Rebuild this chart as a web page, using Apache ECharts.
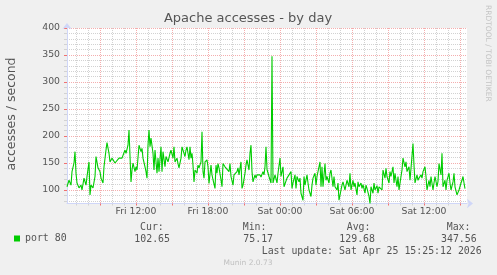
<!DOCTYPE html>
<html><head><meta charset="utf-8">
<script src="https://cdn.jsdelivr.net/npm/echarts@6/dist/echarts.min.js"></script>
<style>html,body{margin:0;padding:0;background:#F0F0F0}#c{width:497px;height:275px}</style>
</head><body><div id="c"></div>
<script>
// time = minutes since Fri 00:00
const times = [
 375,385,395,400,410,415,420,425,435,445,450,460,470,475,485,490,495,
 505,515,520,530,540,545,555,560,570,575,585,590,600,605,615,625,635,640,650,655,
 665,670,680,685,695,700,705,715,720,725,735,745,750,755,765,770,775,780,785,790,795,805,
 810,815,825,830,835,845,850,855,865,870,880,890,895,905,910,915,925,930,935,945,950,955,965,970,975,985,990,995,1000,1005,
 1010,1015,1025,1030,1035,1045,1050,1055,1060,1065,1075,1080,1085,1095,1100,1105,1115,1120,1125,1130,1135,1145,1150,1155,1165,1170,1175,1185,1190,1195,1205,
 1210,1215,1225,1230,1235,1245,1250,1255,1265,1270,1275,1285,1290,1295,1300,1305,1315,1320,1325,1335,1340,1345,1355,1360,1365,1370,1375,1385,1395,
 1400,1405,1415,1425,1430,1440,1445,1455,1460,1470,1475,1485,1495,1500,1505,1515,1520,1525,1535,1540,1545,1555,1560,1565,1575,1580,1585,
 1595,1600,1605,1615,1620,1625,1635,1640,1645,1650,1655,1665,1670,1675,1685,1690,1695,1705,1710,1715,1725,1730,1735,1745,1750,1755,1765,1770,1775,1785,
 1790,1795,1805,1810,1815,1825,1830,1835,1845,1850,1855,1865,1870,1875,1885,1890,1895,1905,1910,1915,1925,1930,1935,1945,1950,1955,1965,1970,1975,
 1985,1990,1995,2005,2010,2015,2025,2030,2035,2045,2050,2055,2065,2070,2075,2085,2090,2095,2105,2110,2115,2125,2130,2135,2145,2150,2155,2165,2170,2175,
 2185,2190,2195,2205,2210,2215,2225,2230,2235,2245,2250,2255,2265,2270,2275,2285,2290,2295,2305,2310,2315,2325,2330,2335,2345,2350,2355,2360,2365
];
const port80 = [
 106,118,109,134,150,171,131,113,104,109,100,122,109,125,152,91,109,
 104,125,162,141,134,122,113,143,174,188,168,152,159,156,150,152,159,156,159,156,
 174,168,183,211,115,137,150,134,143,137,183,171,177,159,143,134,122,183,211,180,196,168,
 137,174,131,159,134,180,134,171,143,162,152,168,174,159,180,152,159,149,141,159,180,183,162,174,180,156,180,159,168,146,
 115,137,131,146,141,152,208,134,122,152,156,143,112,146,128,119,103,146,131,149,141,119,106,149,143,141,146,134,149,125,109,
 128,131,134,141,128,152,103,109,131,146,156,137,168,183,134,115,128,122,128,125,128,124,134,128,143,180,138,125,113,
 347.56,113,128,113,131,159,125,143,106,109,122,125,134,103,113,128,103,125,115,122,94,81,125,109,128,113,100,
 88,109,122,131,109,125,122,152,106,143,106,149,118,125,113,131,137,106,125,106,100,113,81,100,109,115,100,109,118,106,
 131,100,118,106,113,91,115,106,113,103,110,94,109,103,88,75.17,106,94,113,100,108,94,106,108,100,137,122,140,125,
 113,134,125,143,113,131,106,125,100,125,137,159,143,152,134,143,118,140,186,146,113,128,118,122,128,122,134,143,125,100,
 118,106,125,100,113,125,106,116,149,128,168,106,118,100,118,131,113,100,115,131,106,91,88,100,113,118,125,113,102.65
];
const seriesName = 'port 80';
const yTickValues = [100,150,200,250,300,350,400];
const xTickMinutes = [720,1080,1440,1800,2160];
const xTickLabels = ['Fri 12:00','Fri 18:00','Sat 00:00','Sat 06:00','Sat 12:00'];
const statHeads = ['Cur:','Min:','Avg:','Max:'];
const statValues = ['102.65','75.17','129.68','347.56'];
const titleText = 'Apache accesses - by day';
const yAxisTitle = 'accesses / second';
const lastUpdate = 'Last update: Sat Apr 25 15:25:12 2026';
const sideText = 'RRDTOOL / TOBI OETIKER';
const footerText = 'Munin 2.0.73';

const X_MIN = 375, X_MAX = 2375, Y_MIN = 75, Y_MAX = 400;
const xCats = []; for (let m = X_MIN; m <= X_MAX; m += 5) xCats.push(String(m));
const yCats = []; for (let v = Y_MIN; v <= Y_MAX; v += 5) yCats.push(String(v));

const RED = '#F4AEAE', GRAY = '#D2D2D2', AXIS = '#CFD6F8', FONT = '#555';
const LBL = {fontFamily:'DejaVu Sans', fontSize:9.3, color:FONT};
const MONO = 'DejaVu Sans Mono';

const chart = echarts.init(document.getElementById('c'), null, {renderer:'canvas'});
const isMajX = v => (+v) % 180 === 0;
const isMinX = v => (+v) % 60 === 0 && (+v) % 180 !== 0;
const isMajY = v => (+v) % 50 === 0;
const isMinY = v => (+v) % 10 === 0 && (+v) % 50 !== 0;

function txt(text, x, y, size, fill, opts) {
  opts = opts || {};
  const align = opts.align || 'left';
  return {type:'text', x:x, y:y, rotation: opts.rotation || 0, z:100, silent:true,
    style:{text:text, fontFamily: opts.font || MONO, fontSize:size, fill:fill,
      align:align, textAlign:align, verticalAlign:'middle', textVerticalAlign:'middle'}};
}

const graphics = [
  txt(titleText, 248, 19, 13, FONT, {font:'DejaVu Sans', align:'center'}),
  txt(yAxisTitle, 11.7, 114, 12.5, FONT, {font:'DejaVu Sans', align:'center', rotation: Math.PI/2}),
  txt(sideText, 487.7, 53.3, 7.5, '#C4C4C4', {font:'DejaVu Sans', align:'center', rotation: -Math.PI/2}),
  txt(footerText, 248, 263.5, 7.5, '#C0C0C0', {font:'DejaVu Sans', align:'center'}),
  txt(lastUpdate, 261.7, 251.5, 9.9, FONT)
];
const headX = [140, 242.7, 346.7, 446.7];
const valX = [134.3, 243.3, 339.3, 441];
statHeads.forEach((h,i) => graphics.push(txt(h, headX[i], 227.5, 9.9, FONT)));
statValues.forEach((v,i) => graphics.push(txt(v, valX[i], 239.7, 9.9, FONT)));

chart.setOption({
  animation:false,
  backgroundColor:'#F0F0F0',
  color:['#00CC00'],
  grid:{left:67, top:28, width:400, height:175.5, show:true, backgroundColor:'#FFFFFF', borderWidth:0, containLabel:false, outerBoundsMode:'none'},
  legend:{data:[seriesName], left:14, top:233.5, padding:0, icon:'rect', itemWidth:6, itemHeight:6,
    selectedMode:false, textStyle:{fontFamily:MONO, fontSize:9.9, color:FONT}},
  xAxis:[
    {type:'category', data:xCats, boundaryGap:false, position:'bottom', z:1,
     axisLine:{show:false}, axisLabel:{show:false},
     axisTick:{show:true, interval:(i,v)=>isMinX(v), length:2, lineStyle:{color:GRAY}},
     splitLine:{show:true, interval:(i,v)=>isMinX(v), lineStyle:{color:GRAY, width:1, type:[1,1]}}},
    {type:'category', data:xCats, boundaryGap:false, position:'bottom', z:2,
     axisLine:{show:true, lineStyle:{color:AXIS, width:1}, symbol:['none','arrow'], symbolSize:[7,6], symbolOffset:[0,6]},
     axisTick:{show:true, interval:(i,v)=>isMajX(v), length:2, lineStyle:{color:'#F07070'}},
     axisLabel:{show:true, interval:(i,v)=>xTickMinutes.indexOf(+v) >= 0, margin:4,
       formatter:(v)=>xTickLabels[xTickMinutes.indexOf(+v)] || '', ...LBL},
     splitLine:{show:true, interval:(i,v)=>isMajX(v), lineStyle:{color:RED, width:1, type:[1,1]}}},
    {type:'value', min:X_MIN, max:X_MAX, show:false}
  ],
  yAxis:[
    {type:'category', data:yCats, boundaryGap:false, position:'left', z:1,
     axisLine:{show:false}, axisLabel:{show:false},
     axisTick:{show:true, interval:(i,v)=>isMinY(v), length:3, lineStyle:{color:GRAY}},
     splitLine:{show:true, interval:(i,v)=>isMinY(v), lineStyle:{color:GRAY, width:1, type:[1,1]}}},
    {type:'category', data:yCats, boundaryGap:false, position:'left', z:2,
     axisLine:{show:true, lineStyle:{color:AXIS, width:1}, symbol:['none','arrow'], symbolSize:[7,6], symbolOffset:[0,5]},
     axisTick:{show:true, interval:(i,v)=>isMajY(v), length:3, lineStyle:{color:'#F07070'}},
     axisLabel:{show:true, interval:(i,v)=>yTickValues.indexOf(+v) >= 0, margin:7,
       formatter:(v)=> yTickValues.indexOf(+v) >= 0 ? String(v) : '', ...LBL},
     splitLine:{show:true, interval:(i,v)=>isMajY(v), lineStyle:{color:RED, width:1, type:[1,1]}}},
    {type:'value', min:Y_MIN, max:Y_MAX, show:false}
  ],
  series:[{
    name:seriesName, type:'line', xAxisIndex:2, yAxisIndex:2, z:5,
    data: times.map((t,i)=>[t, port80[i]]),
    showSymbol:false, symbol:'none', smooth:false,
    lineStyle:{color:'#00CC00', width:1.1}, itemStyle:{color:'#00CC00'}
  }],
  graphic: graphics
});
</script>
</body></html>
